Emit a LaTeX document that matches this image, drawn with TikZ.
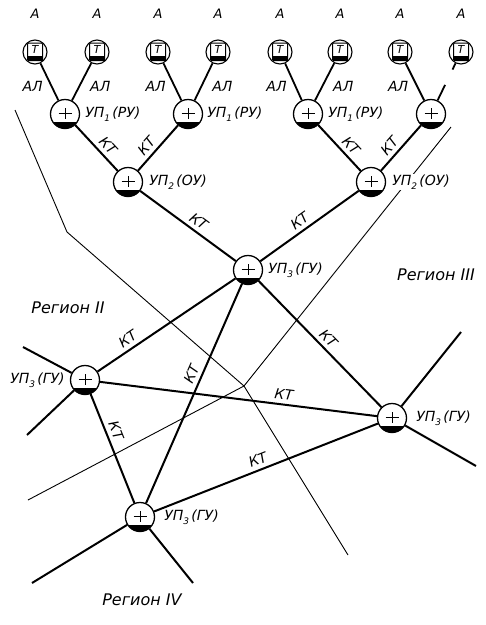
\documentclass[tikz,border=0pt]{standalone}
\usepackage{fontspec}
\setmainfont{DejaVu Sans}
\usetikzlibrary{positioning}
\newcommand{\ix}[1]{\raisebox{-0.5ex}{\fontsize{9}{9}\selectfont#1}}

\begin{document}
\begin{tikzpicture}[
  x=1pt,y=-1pt,
  font=\fontsize{14}{16}\selectfont\itshape,
  uzel/.style={circle,draw,line width=1.3pt,fill=white,minimum size=29pt,inner sep=0pt,
    path picture={
      \fill[black] ([yshift=6.5pt]path picture bounding box.south west) rectangle (path picture bounding box.south east);
      \draw[black,line width=0.9pt] ([shift={(-6.5pt,1pt)}]path picture bounding box.center) -- ([shift={(6.5pt,1pt)}]path picture bounding box.center);
      \draw[black,line width=0.9pt] ([shift={(0pt,-4.5pt)}]path picture bounding box.center) -- ([shift={(0pt,6.5pt)}]path picture bounding box.center);
    }},
  term/.style={circle,draw,line width=1.1pt,fill=white,minimum size=24pt,inner sep=0pt,
    font=\fontsize{11}{11}\selectfont\itshape,text height=8pt,text depth=4.5pt,
    path picture={
      \draw[black,line width=1pt,rounded corners=1pt] ([shift={(-7.5pt,-8.5pt)}]path picture bounding box.center) rectangle ([shift={(7.5pt,9pt)}]path picture bounding box.center);
      \fill[black] ([shift={(-7.5pt,-8.5pt)}]path picture bounding box.center) rectangle ([shift={(7.5pt,-4pt)}]path picture bounding box.center);
    }},
  kt/.style={line width=2pt},
  al/.style={line width=1.8pt},
  bound/.style={line width=0.9pt},
  lbl/.style={inner sep=1pt},
  alab/.style={inner sep=1pt,font=\fontsize{13}{15}\selectfont\itshape},
  ktl/.style={sloped,above=3pt,inner sep=1pt},
  reg/.style={font=\fontsize{16}{18}\selectfont\itshape}
]
  \useasboundingbox (0,0) rectangle (486,625);

  % region boundaries
  \coordinate (cross) at (244,386);
  \coordinate (ba1) at (15,110);
  \coordinate (ba2) at (67,232);
  \coordinate (ba3) at (348,555);
  \coordinate (bb1) at (451,127);
  \coordinate (bb2) at (28,500);
  \draw[bound] (ba1) -- (ba2) -- (cross) -- (ba3);
  \draw[bound] (bb1) -- (cross) -- (bb2);

  % terminals
  \node[term] (t1) at (35,52) {Т};
  \node[term] (t2) at (97,52) {Т};
  \node[term] (t3) at (158,52) {Т};
  \node[term] (t4) at (218,52) {Т};
  \node[term] (t5) at (280,52) {Т};
  \node[term] (t6) at (340,52) {Т};
  \node[term] (t7) at (400,52) {Т};
  \node[term] (t8) at (461,52) {Т};
  \node[alab,above=20pt of t1] (a1) {А};
  \node[alab,above=20pt of t2] (a2) {А};
  \node[alab,above=20pt of t3] (a3) {А};
  \node[alab,above=20pt of t4] (a4) {А};
  \node[alab,above=20pt of t5] (a5) {А};
  \node[alab,above=20pt of t6] (a6) {А};
  \node[alab,above=20pt of t7] (a7) {А};
  \node[alab,above=20pt of t8] (a8) {А};

  % switching nodes
  \node[uzel] (u1a) at (65,114) {};
  \node[uzel] (u1b) at (188,114) {};
  \node[uzel] (u1c) at (308,114) {};
  \node[uzel] (u1d) at (431,114) {};
  \node[uzel] (u2a) at (128,182) {};
  \node[uzel] (u2b) at (371,182) {};
  \node[uzel] (u3c) at (248,270) {};
  \node[uzel] (u3l) at (85,380) {};
  \node[uzel] (u3r) at (392,418) {};
  \node[uzel] (u3b) at (140,517) {};

  \node[lbl,right=4pt of u1a] (l1a) {УП\ix{1}\,(РУ)};
  \node[lbl,right=3pt of u1b] (l1b) {УП\ix{1}\,(РУ)};
  \node[lbl,right=4pt of u1c] (l1c) {УП\ix{1}\,(РУ)};
  \node[lbl,right=5pt of u2a] (l2a) {УП\ix{2}\,(ОУ)};
  \node[lbl,right=5pt of u2b,fill=white] (l2b) {УП\ix{2}\,(ОУ)};
  \node[lbl,right=4pt of u3c] (l3c) {УП\ix{3}\,(ГУ)};
  \node[lbl,left=4pt of u3l] (l3l) {УП\ix{3}\,(ГУ)};
  \node[lbl,right=8pt of u3r] (l3r) {УП\ix{3}\,(ГУ)};
  \node[lbl,right=8pt of u3b] (l3b) {УП\ix{3}\,(ГУ)};

  \node[reg] (r2) at (68,308) {Регион II};
  \node[reg] (r3) at (436,275) {Регион III};
  \node[reg] (r4) at (142,600) {Регион IV};

  % subscriber lines
  \draw[al] (t1) -- node[pos=0.62,left=7pt,lbl] (al1) {АЛ} (u1a);
  \draw[al] (t2) -- node[pos=0.62,right=9pt,lbl] (al2) {АЛ} (u1a);
  \draw[al] (t3) -- node[pos=0.62,left=7pt,lbl] (al3) {АЛ} (u1b);
  \draw[al] (t4) -- node[pos=0.62,right=9pt,lbl] (al4) {АЛ} (u1b);
  \draw[al] (t5) -- node[pos=0.62,left=7pt,lbl] (al5) {АЛ} (u1c);
  \draw[al] (t6) -- node[pos=0.62,right=9pt,lbl] (al6) {АЛ} (u1c);
  \draw[al] (t7) -- node[pos=0.62,left=7pt,lbl] (al7) {АЛ} (u1d);
  \draw[al,dash pattern=on 7pt off 17pt on 40pt] (t8) -- (u1d);

  % trunks
  \draw[kt] (u1a) -- node[ktl,pos=0.6] (k1) {КТ} (u2a);
  \draw[kt] (u2a) -- node[ktl,pos=0.4] (k2) {КТ} (u1b);
  \draw[kt] (u1c) -- node[ktl,pos=0.6] (k3) {КТ} (u2b);
  \draw[kt] (u2b) -- node[ktl,pos=0.4] (k4) {КТ} (u1d);
  \draw[kt] (u2a) -- node[ktl,pos=0.55] (k5) {КТ} (u3c);
  \draw[kt] (u3c) -- node[ktl,pos=0.46] (k6) {КТ} (u2b);
  \draw[kt] (u3l) -- node[ktl,pos=0.26] (k7) {КТ} (u3c);
  \draw[kt] (u3b) -- node[ktl,pos=0.57] (k8) {КТ} (u3c);
  \draw[kt] (u3c) -- node[ktl,pos=0.51] (k9) {КТ} (u3r);
  \draw[kt] (u3l) -- node[ktl,pos=0.66] (k10) {КТ} (u3r);
  \draw[kt] (u3l) -- node[ktl,pos=0.37] (k11) {КТ} (u3b);
  \draw[kt] (u3b) -- node[ktl,pos=0.48] (k12) {КТ} (u3r);

  % outgoing stubs
  \coordinate (e1) at (23,347);
  \coordinate (e2) at (27,435);
  \coordinate (e3) at (461,332);
  \coordinate (e4) at (476,466);
  \coordinate (e5) at (32,583);
  \coordinate (e6) at (193,583);
  \draw[kt] (u3l) -- (e1);
  \draw[kt] (u3l) -- (e2);
  \draw[kt] (u3r) -- (e3);
  \draw[kt] (u3r) -- (e4);
  \draw[kt] (u3b) -- (e5);
  \draw[kt] (u3b) -- (e6);
\end{tikzpicture}
\end{document}
